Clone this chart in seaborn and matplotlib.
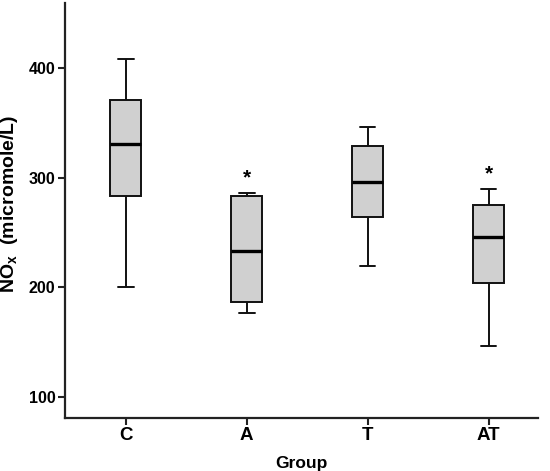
import matplotlib
matplotlib.use("Agg")
import matplotlib.pyplot as plt
import numpy as np
import pandas as pd
import seaborn as sns

# five-number summaries (min, q1, median, q3, max)
groups = ["C", "A", "T", "AT"]
nox_C = [200, 283, 331, 371, 409]
nox_A = [176, 186, 233, 283, 286]
nox_T = [219, 264, 296, 329, 346]
nox_AT = [146, 204, 246, 275, 290]
significant = ["A", "AT"]
yticks = [100, 200, 300, 400]

sns.set_theme(style="ticks")
plt.rcParams['font.family'] = ['Liberation Sans', 'DejaVu Sans']
plt.rcParams['mathtext.fontset'] = 'custom'
plt.rcParams['mathtext.bf'] = 'Liberation Sans:bold'
plt.rcParams['mathtext.rm'] = 'Liberation Sans:bold'
plt.rcParams['text.color'] = 'black'
plt.rcParams['axes.labelcolor'] = 'black'
plt.rcParams['xtick.color'] = 'black'
plt.rcParams['ytick.color'] = 'black'

vals = {"C": nox_C, "A": nox_A, "T": nox_T, "AT": nox_AT}
df = pd.DataFrame([(g, v) for g in groups for v in vals[g]], columns=["Group", "NOx"])

fig = plt.figure(figsize=(5.5, 4.71), dpi=100)
ax = fig.add_axes([0.1187, 0.1132, 0.859, 0.881])

sns.boxplot(data=df, x="Group", y="NOx", order=groups, ax=ax, width=0.256,
            color="#d0d0d0", whis=np.inf, saturation=1,
            boxprops=dict(edgecolor="#111111", linewidth=1.4),
            whiskerprops=dict(color="#111111", linewidth=1.4),
            capprops=dict(color="#111111", linewidth=1.4),
            medianprops=dict(color="black", linewidth=2.4))

for g in significant:
    i = groups.index(g)
    ax.text(i, max(vals[g]) + 5, "*", ha="center", va="bottom",
            fontsize=15, fontweight="bold")

ax.set_xlim(-0.5, 3.405)
ax.set_ylim(80.7, 460)
ax.set_yticks(yticks)
ax.set_yticklabels([str(t) for t in yticks], fontsize=11.5, fontweight="bold")
ax.set_xticks(range(len(groups)))
ax.set_xticklabels(groups, fontsize=13.5, fontweight="bold")
ax.set_xlabel("Group", fontsize=12.5, fontweight="bold", labelpad=8)
ax.set_ylabel(r"NO$_{\mathbf{x}}$  (micromole/L)", fontsize=14, fontweight="bold")
ax.yaxis.set_label_coords(-0.096, 0.516)

for s in ["top", "right"]:
    ax.spines[s].set_visible(False)
for s in ["left", "bottom"]:
    ax.spines[s].set_color("#222222")
    ax.spines[s].set_linewidth(1.6)
ax.tick_params(axis="both", length=5, width=1.5, color="#222222", pad=2)

fig.savefig("out.png", dpi=100)
